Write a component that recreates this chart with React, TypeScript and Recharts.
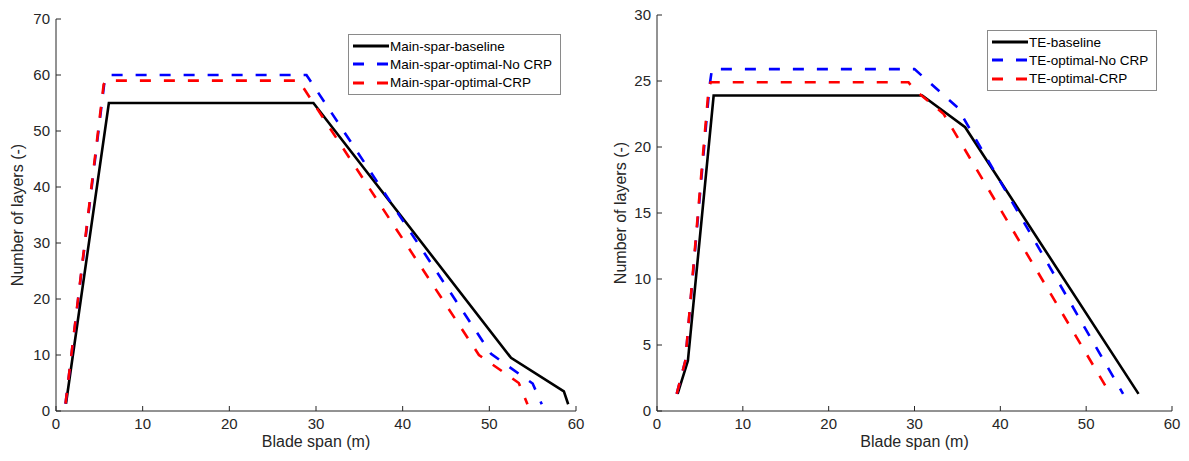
import React from "react";
import { LineChart, Line, XAxis, YAxis, Legend } from "recharts";

const FONT = '"Liberation Sans", Arial, Helvetica, sans-serif';
const AXIS = "#262626";

const spanTicks = [0, 10, 20, 30, 40, 50, 60];
const mainLayerTicks = [0, 10, 20, 30, 40, 50, 60, 70];
const teLayerTicks = [0, 5, 10, 15, 20, 25, 30];

// main spar
const mainBaseSpan = [1.15, 6.1, 29.7, 52.5, 58.6, 59.1];
const mainBaseLayers = [1.3, 55, 55, 9.5, 3.5, 1.2];
const mainNoCrpSpan = [1.1, 5.55, 5.9, 28.9, 50.2, 55.0, 56.05];
const mainNoCrpLayers = [1.3, 58.3, 60, 60, 10.2, 4.9, 1.2];
const mainCrpSpan = [1.1, 5.5, 5.75, 28.0, 48.8, 53.4, 54.4];
const mainCrpLayers = [1.3, 58.3, 59, 59, 10, 5.0, 1.2];

// trailing edge
const teBaseSpan = [2.4, 3.6, 6.6, 30.9, 35.9, 56.1];
const teBaseLayers = [1.3, 3.8, 23.9, 23.9, 21.5, 1.3];
const teNoCrpSpan = [2.3, 3.3, 6.1, 6.4, 30.0, 35.0, 54.3];
const teNoCrpLayers = [1.3, 3.8, 24.5, 25.9, 25.9, 23.0, 1.3];
const teCrpSpan = [2.3, 3.3, 6.0, 6.25, 29.3, 29.9, 33.4, 52.8];
const teCrpLayers = [1.3, 3.8, 24.3, 24.9, 24.9, 24.4, 22.5, 1.3];

const zip = (xs: number[], ys: number[]) => xs.map((x, i) => ({ x, y: ys[i] }));

type Series = { name: string; color: string; dashed: boolean; data: { x: number; y: number }[] };

const mainSeries: Series[] = [
  { name: "Main-spar-baseline", color: "#000000", dashed: false, data: zip(mainBaseSpan, mainBaseLayers) },
  { name: "Main-spar-optimal-No CRP", color: "#0000ff", dashed: true, data: zip(mainNoCrpSpan, mainNoCrpLayers) },
  { name: "Main-spar-optimal-CRP", color: "#ff0000", dashed: true, data: zip(mainCrpSpan, mainCrpLayers) },
];

const teSeries: Series[] = [
  { name: "TE-baseline", color: "#000000", dashed: false, data: zip(teBaseSpan, teBaseLayers) },
  { name: "TE-optimal-No CRP", color: "#0000ff", dashed: true, data: zip(teNoCrpSpan, teNoCrpLayers) },
  { name: "TE-optimal-CRP", color: "#ff0000", dashed: true, data: zip(teCrpSpan, teCrpLayers) },
];

const DASH = "11 13";

function LegendBox({ series, width }: { series: Series[]; width: number }) {
  return (
    <div
      style={{
        boxSizing: "border-box",
        width,
        border: "1px solid #8a8a8a",
        background: "#fff",
        padding: "2px 0 2px 4px",
        fontFamily: FONT,
        fontSize: 13.5,
        color: "#000",
        textAlign: "left",
      }}
    >
      {series.map((s) => (
        <div key={s.name} style={{ display: "flex", alignItems: "center", height: 18.3, whiteSpace: "nowrap" }}>
          <svg width={36} height={10} style={{ flex: "none" }}>
            <line x1={0} y1={5} x2={36} y2={5} stroke={s.color} strokeWidth={3} strokeDasharray={s.dashed ? DASH : undefined} />
          </svg>
          <span style={{ marginLeft: 1 }}>{s.name}</span>
        </div>
      ))}
    </div>
  );
}

function Panel({
  series,
  width,
  yMax,
  yTicks,
  yAxisWidth,
  top,
  right,
  yLabelX,
  legendLeft,
  legendTop,
  legendWidth,
}: {
  series: Series[];
  width: number;
  yMax: number;
  yTicks: number[];
  yAxisWidth: number;
  top: number;
  right: number;
  yLabelX: number;
  legendLeft: number;
  legendTop: number;
  legendWidth: number;
}) {
  return (
    <LineChart width={width} height={461} margin={{ top, right, bottom: 14, left: 0 }}>
      <XAxis
        type="number"
        dataKey="x"
        domain={[0, 60]}
        ticks={spanTicks}
        allowDataOverflow
        height={36}
        stroke={AXIS}
        tickSize={-5}
        tickMargin={12}
        tick={{ fill: AXIS, fontSize: 15, fontFamily: FONT }}
        label={{ value: "Blade span (m)", position: "insideBottom", offset: 0, fill: AXIS, fontSize: 16, fontFamily: FONT }}
      />
      <XAxis xAxisId="top" orientation="top" type="number" domain={[0, 60]} ticks={spanTicks} allowDataOverflow height={0} stroke={AXIS} tickSize={-5} tick={false} />
      <YAxis
        type="number"
        domain={[0, yMax]}
        ticks={yTicks}
        allowDataOverflow
        width={yAxisWidth}
        stroke={AXIS}
        tickSize={-5}
        tickMargin={11}
        tick={{ fill: AXIS, fontSize: 15, fontFamily: FONT }}
        label={{
          value: "Number of layers (-)",
          angle: -90,
          position: "insideLeft",
          offset: yLabelX,
          fill: AXIS,
          fontSize: 16,
          fontFamily: FONT,
          style: { textAnchor: "middle" },
        }}
      />
      <YAxis yAxisId="right" orientation="right" type="number" domain={[0, yMax]} ticks={yTicks} allowDataOverflow width={0} stroke={AXIS} tickSize={-5} tick={false} />
      {series.map((s) => (
        <Line
          key={s.name}
          data={s.data}
          dataKey="y"
          name={s.name}
          type="linear"
          stroke={s.color}
          strokeWidth={2.6}
          strokeDasharray={s.dashed ? DASH : undefined}
          dot={false}
          activeDot={false}
          isAnimationActive={false}
        />
      ))}
      <Legend
        layout="horizontal"
        verticalAlign="middle"
        align="center"
        wrapperStyle={{ position: "absolute", left: legendLeft, top: legendTop, width: legendWidth, height: "auto" }}
        content={() => <LegendBox series={series} width={legendWidth} />}
      />
    </LineChart>
  );
}

export default function App() {
  return (
    <div style={{ position: "absolute", left: 0, top: 0, width: 1189, height: 461, background: "#fff", overflow: "hidden" }}>
      <div style={{ position: "absolute", left: 0, top: 0 }}>
        <Panel
          series={mainSeries}
          width={595}
          yMax={70}
          yTicks={mainLayerTicks}
          yAxisWidth={56}
          top={19}
          right={19}
          yLabelX={17}
          legendLeft={348}
          legendTop={34}
          legendWidth={213}
        />
      </div>
      <div style={{ position: "absolute", left: 595, top: 0 }}>
        <Panel
          series={teSeries}
          width={594}
          yMax={30}
          yTicks={teLayerTicks}
          yAxisWidth={62}
          top={15}
          right={17}
          yLabelX={25}
          legendLeft={392}
          legendTop={30}
          legendWidth={170}
        />
      </div>
    </div>
  );
}
